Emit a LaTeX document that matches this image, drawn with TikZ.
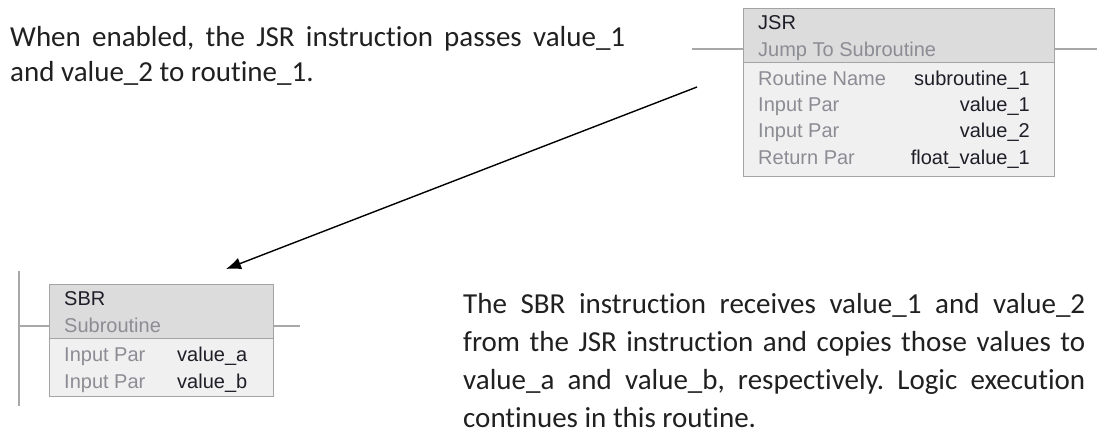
\documentclass[tikz,border=0pt]{standalone}
\usepackage{fontspec}
\setmainfont{Carlito}[Ligatures={NoCommon}]
\newfontfamily\plcfont{Liberation Sans}
\usetikzlibrary{arrows.meta}
\definecolor{rung}{HTML}{A8A8A8}
\definecolor{boxline}{HTML}{A4A4A4}
\definecolor{hdrfill}{HTML}{DCDCDC}
\definecolor{bodyfill}{HTML}{F0F0F0}
\definecolor{lbl}{HTML}{8C8C94}
\definecolor{val}{HTML}{1E1E28}
\definecolor{notecol}{HTML}{202020}
\frenchspacing
\begin{document}
\begin{tikzpicture}[x=1pt,y=-1pt,
  rungline/.style={draw=rung,line width=1.3pt},
  hdrbox/.style={draw=boxline,fill=hdrfill,line width=1.3pt,inner sep=0pt,anchor=north west},
  bodybox/.style={draw=boxline,fill=bodyfill,line width=1.3pt,inner sep=0pt,anchor=north west},
  plctext/.style={inner sep=0pt,font=\plcfont\fontsize{20}{24}\selectfont},
  lbltext/.style={plctext,text=lbl,anchor=base west},
  valtext/.style={plctext,text=val,anchor=base west},
  valright/.style={plctext,text=val,anchor=base east},
  note/.style={inner sep=0pt,anchor=base west,text=notecol,font=\fontsize{29}{35}\selectfont}]
\useasboundingbox (0,0) rectangle (1097,434);

% ---------- JSR block ----------
\node[bodybox,minimum width=311pt,minimum height=114pt] (jsrbody) at (743,62) {};
\node[hdrbox,minimum width=311pt,minimum height=54pt] (jsrhead) at (743,8) {};
\coordinate (jsrrungL) at (692,49);
\coordinate (jsrrungR) at (1097,49);
\draw[rungline] (jsrrungL) -- (jsrrungL -| jsrhead.west);
\draw[rungline] (jsrhead.east |- jsrrungR) -- (jsrrungR);

\node[valtext] (jsrname) at (758,29) {JSR};
\node[lbltext] (jsrdesc) at (758,56.5) {Jump To Subroutine};
\node[lbltext] (jsrl1) at (758,85) {Routine Name};
\node[valright] (jsrv1) at (1030,85) {subroutine\_1};
\node[lbltext] (jsrl2) at (758,111.5) {Input Par};
\node[valright] (jsrv2) at (1030,111.5) {value\_1};
\node[lbltext] (jsrl3) at (758,137.5) {Input Par};
\node[valright] (jsrv3) at (1030,137.5) {value\_2};
\node[lbltext] (jsrl4) at (758,164) {Return Par};
\node[valright] (jsrv4) at (1030,164) {float\_value\_1};

% ---------- SBR block ----------
\node[bodybox,minimum width=224pt,minimum height=58pt] (sbrbody) at (49,338) {};
\node[hdrbox,minimum width=224pt,minimum height=54pt] (sbrhead) at (49,284) {};
\coordinate (railtop) at (19,271);
\coordinate (railbot) at (19,406);
\coordinate (sbrrungL) at (19,326);
\coordinate (sbrrungR) at (300,326);
\draw[rungline] (railtop) -- (railbot);
\draw[rungline] (sbrrungL) -- (sbrrungL -| sbrhead.west);
\draw[rungline] (sbrhead.east |- sbrrungR) -- (sbrrungR);

\node[valtext] (sbrname) at (64,305) {SBR};
\node[lbltext] (sbrdesc) at (64,332) {Subroutine};
\node[lbltext] (sbrl1) at (64,361) {Input Par};
\node[valtext] (sbrv1) at (177,361) {value\_a};
\node[lbltext] (sbrl2) at (64,388) {Input Par};
\node[valtext] (sbrv2) at (177,388) {value\_b};

% ---------- arrow ----------
\coordinate (arrowstart) at (697,87);
\coordinate (arrowtip) at (226,269);
\draw[-{Latex[length=15pt,width=12pt]},line width=1.4pt,black] (arrowstart) -- (arrowtip);

% ---------- notes ----------
\node[note] (notea1) at (10,46.7) {\makebox[615pt][s]{When enabled, the JSR instruction passes value\_1}};
\node[note] (notea2) at (10,81.7) {and value\_2 to routine\_1.};

\node[note] (noteb1) at (463,313) {\makebox[622pt][s]{The SBR instruction receives value\_1 and value\_2}};
\node[note] (noteb2) at (463,351) {\makebox[622pt][s]{from the JSR instruction and copies those values to}};
\node[note] (noteb3) at (463,389) {\makebox[622pt][s]{value\_a and value\_b, respectively. Logic execution}};
\node[note] (noteb4) at (463,427) {continues in this routine.};
\end{tikzpicture}
\end{document}
